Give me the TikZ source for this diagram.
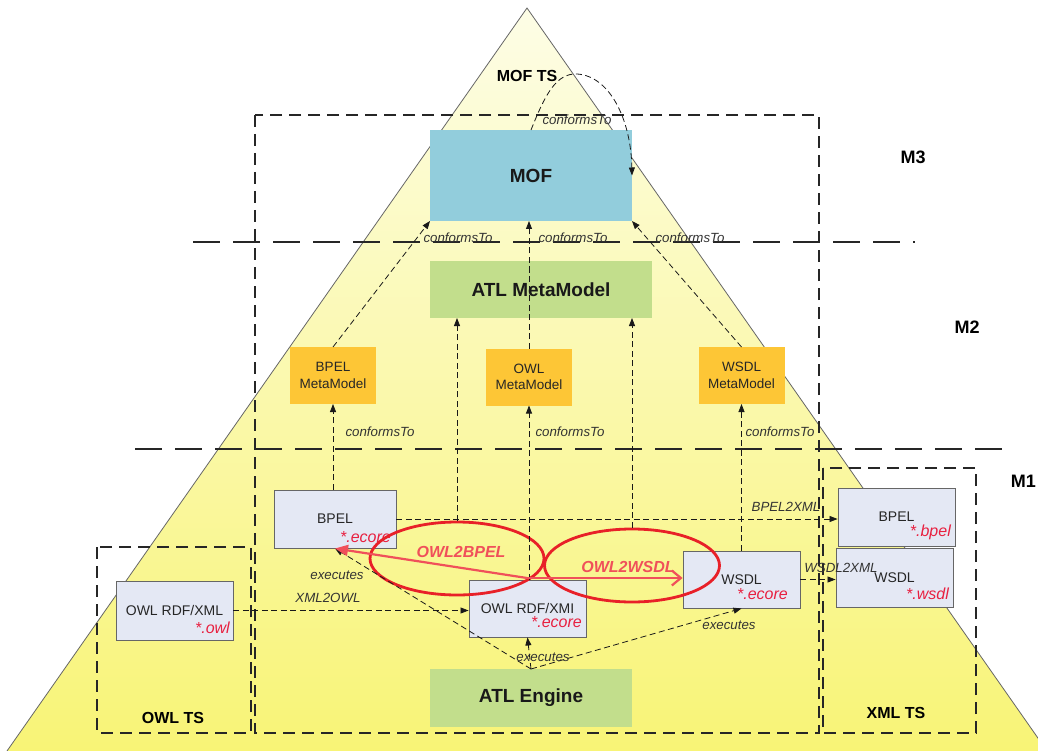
\documentclass[tikz,border=0pt]{standalone}
\usepackage{fontspec}
\setmainfont{Liberation Sans}
\usetikzlibrary{shapes.geometric,arrows.meta,calc}
\definecolor{mofblue}{HTML}{92CDDC}
\definecolor{atlgreen}{HTML}{C2DE8C}
\definecolor{mmorange}{HTML}{FDC636}
\definecolor{modelfill}{HTML}{E4E8F4}
\definecolor{ellred}{HTML}{E82028}
\definecolor{lightred}{HTML}{F0505A}
\definecolor{suffixred}{HTML}{E82040}
\definecolor{tritop}{HTML}{FDFDE6}
\definecolor{trimid}{HTML}{FBF8B0}
\definecolor{tribot}{HTML}{F8F476}
\begin{document}
\begin{tikzpicture}[x=1pt,y=-1pt,
  colbox/.style={rectangle,inner sep=0pt,outer sep=0pt},
  mmbox/.style={colbox,fill=mmorange,minimum width=86pt,minimum height=57pt,align=center,
     font=\fontsize{13.5}{16.5}\selectfont,text=black!85},
  modelbox/.style={rectangle,draw=black!60,line width=0.9pt,fill=modelfill,inner sep=0pt,
     minimum width=117pt,minimum height=58pt,font=\fontsize{14}{16}\selectfont,text=black!85},
  bigtxt/.style={font=\fontsize{19}{22}\selectfont\bfseries,text=black!90},
  tsbox/.style={draw=black!85,dash pattern=on 12pt off 7pt,line width=1.6pt},
  levelline/.style={draw=black!85,dash pattern=on 27pt off 13pt,line width=1.6pt},
  conn/.style={draw=black!90,dash pattern=on 6pt off 3.5pt,line width=0.8pt,
     -{Triangle[length=8pt,width=6pt]}},
  lbl/.style={font=\fontsize{13.3}{15}\selectfont\itshape,text=black!80,inner sep=1pt},
  sfx/.style={font=\fontsize{16}{18}\selectfont\itshape,text=suffixred,anchor=east,inner sep=0pt},
  tslabel/.style={font=\fontsize{16}{18}\selectfont\bfseries,text=black},
  mlabel/.style={font=\fontsize{18}{20}\selectfont\bfseries,text=black},
  transell/.style={ellipse,draw=ellred,line width=2.8pt,inner sep=0pt},
  transtxt/.style={font=\fontsize{16}{18}\selectfont\bfseries\itshape,text=lightred},
  redarr/.style={draw=lightred,line width=2.2pt}
]
\useasboundingbox (0,0) rectangle (1038,751);
% pyramid
\shade[top color=tritop, middle color=trimid, bottom color=tribot] (527,8) -- (7,751) -- (1047,751) -- cycle;
\draw[black!60,line width=0.8pt] (7,751) -- (527,8) -- (1047,751);

% dashed boxes and level lines
\draw[tsbox] (255,115) rectangle (819,733);
\draw[tsbox] (97,547) rectangle (251,733);
\draw[tsbox] (823,468) rectangle (976,733);
\draw[levelline] (193,242) -- (915,242);
\draw[levelline] (135,449) -- (1011,449);

% level labels
\node[tslabel] (mofts) at (527,76) {MOF TS};
\node[mlabel] (m3) at (913,157) {M3};
\node[mlabel] (m2) at (967,327) {M2};
\node[mlabel,anchor=east,inner sep=1pt] (m1) at (1037,481) {M1};
\node[tslabel] (owlts) at (173,718) {OWL TS};
\node[tslabel] (xmlts) at (896,713) {XML TS};

% colored boxes
\node[colbox,fill=mofblue,minimum width=202pt,minimum height=91pt,bigtxt] (mof) at (531,175.5) {MOF};
\node[colbox,fill=atlgreen,minimum width=222pt,minimum height=57pt,bigtxt] (atlmm) at (541,289.5) {ATL MetaModel};
\node[mmbox] (bpelmm) at (333,375.5) {BPEL\\MetaModel};
\node[mmbox] (owlmm) at (529,377) {OWL\\MetaModel};
\node[mmbox] (wsdlmm) at (741.5,375.5) {WSDL\\MetaModel};
\node[colbox,fill=atlgreen,minimum width=202pt,minimum height=58pt,bigtxt] (atleng) at (531,698) {ATL Engine};

% model boxes
\node[modelbox,minimum width=122pt] (bpel) at (335,519) {BPEL};
\node[sfx] (bpelsfx) at (391,537) {*.ecore};
\node[modelbox,minimum height=59pt] (owlxml) at (174.5,610.5) {OWL RDF/XML};
\node[sfx] (owlxmlsfx) at (230,628) {*.owl};
\node[modelbox,minimum height=57pt] (owlxmi) at (527.5,608.5) {OWL RDF/XMI};
\node[sfx] (owlxmisfx) at (582,622) {*.ecore};
\node[modelbox,minimum height=57pt] (wsdl) at (741.5,579.5) {WSDL};
\node[sfx] (wsdlsfx) at (788,594) {*.ecore};
\node[modelbox] (bpelx) at (896.5,517) {BPEL};
\node[sfx] (bpelxsfx) at (951,532) {*.bpel};
\node[modelbox,minimum height=59pt] (wsdlx) at (894.5,577.5) {WSDL};
\node[sfx] (wsdlxsfx) at (949,594) {*.wsdl};

% transformation ellipses
\node[transell,minimum width=174pt,minimum height=73pt] (ell1) at (457,558.5) {};
\node[transell,minimum width=175pt,minimum height=73pt] (ell2) at (632,565.5) {};

% conformsTo connectors
\draw[conn] (mof.north) .. controls (545,95) and (556,73) .. (577,74)
   .. controls (610,76) and (631,120) .. (mof.east);
\node[lbl] (c0) at (577,120) {conformsTo};
\draw[conn] (bpelmm.north) -- (mof.south west);
\draw[conn] (owlmm.north) -- (owlmm.north |- mof.south);
\draw[conn] (wsdlmm.north) -- (mof.south east);
\node[lbl] (c1) at (458,238) {conformsTo};
\node[lbl] (c2) at (573,238) {conformsTo};
\node[lbl] (c3) at (690,238) {conformsTo};
\draw[conn] (bpelmm.south |- bpel.north) -- (bpelmm.south);
\draw[conn] (owlmm.south |- owlxmi.north) -- (owlmm.south);
\draw[conn] (wsdlmm.south |- wsdl.north) -- (wsdlmm.south);
\node[lbl] (c4) at (380,432) {conformsTo};
\node[lbl] (c5) at (570,432) {conformsTo};
\node[lbl] (c6) at (780,432) {conformsTo};
\draw[conn] (ell1.north) -- (ell1.north |- atlmm.south);
\draw[conn] (ell2.north) -- (ell2.north |- atlmm.south);

% executes
\draw[conn] (atleng.north) -- (bpel.south);
\draw[conn] (atleng.north) -- (owlxmi.south);
\draw[conn] (atleng.north) -- (wsdl.south);
\node[lbl] (e1) at (337,575) {executes};
\node[lbl] (e2) at (543,657) {executes};
\node[lbl] (e3) at (729,625) {executes};

% transformations between spaces
\draw[conn] (owlxml.east) -- (owlxml.east -| owlxmi.west);
\node[lbl] (t1) at (328,598) {XML2OWL};
\draw[conn] (bpel.east) -- (bpel.east -| bpelx.west);
\node[lbl] (t2) at (786,507) {BPEL2XML};
\draw[conn] (wsdl.east) -- (wsdl.east -| wsdlx.west);
\node[lbl] (t3) at (841,568) {WSDL2XML};

% red transformation arrows
\coordinate (src) at (527,578);
\draw[redarr,-{Triangle[length=13pt,width=11pt]}] (src) -- (bpel.south);
\draw[redarr,-{Straight Barb[length=9pt,width=15pt]}] (src) -- (src -| wsdl.west);
\node[transtxt] (owl2bpel) at (461,552) {OWL2BPEL};
\node[transtxt] (owl2wsdl) at (628,567) {OWL2WSDL};
\end{tikzpicture}
\end{document}
